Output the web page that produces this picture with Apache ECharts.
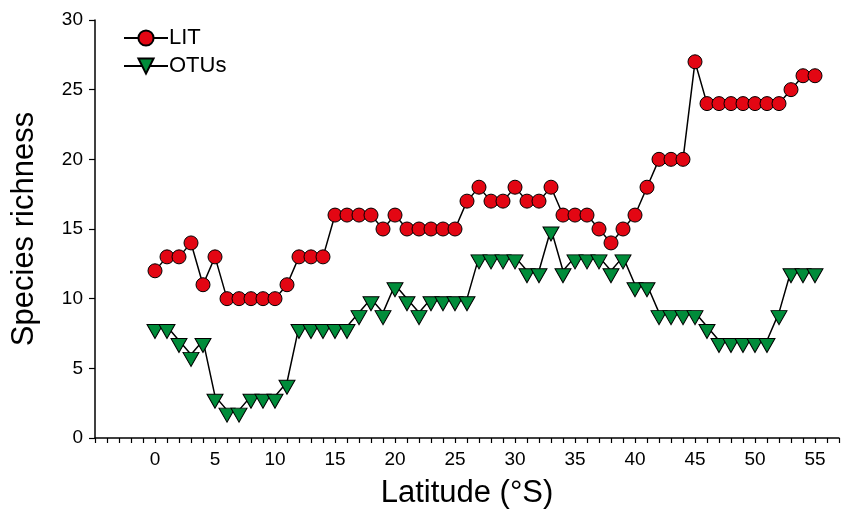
<!DOCTYPE html>
<html>
<head>
<meta charset="utf-8">
<script src="https://cdn.jsdelivr.net/npm/echarts@6/dist/echarts.min.js"></script>
<style>html,body{margin:0;padding:0;background:#fff;}#c{width:849px;height:514px;}</style>
</head>
<body>
<div id="c"></div>
<script>
var latitudes = [];
for (var i = 0; i <= 55; i++) latitudes.push(i);
var litValues = [12,13,13,14,11,13,10,10,10,10,10,11,13,13,13,16,16,16,16,15,16,15,15,15,15,15,17,18,17,17,18,17,17,18,16,16,16,15,14,15,16,18,20,20,20,27,24,24,24,24,24,24,24,25,26,26];
var otuValues = [8,8,7,6,7,3,2,2,3,3,3,4,8,8,8,8,8,9,10,9,11,10,9,10,10,10,10,13,13,13,13,12,12,15,12,13,13,13,12,13,11,11,9,9,9,9,8,7,7,7,7,7,9,12,12,12];
var yTicks = [0,5,10,15,20,25,30];

function pairs(vals){ return vals.map(function(v,i){ return [latitudes[i], v]; }); }

var chart = echarts.init(document.getElementById('c'));
var font = 'Liberation Sans, Arial, sans-serif';
chart.setOption({
  animation: false,
  grid: {left: 95, right: 10, top: 20, bottom: 76},
  legend: {
    left: 118, top: 22, orient: 'vertical', itemGap: 6,
    itemWidth: 44, itemHeight: 19,
    textStyle: {fontFamily: font, fontSize: 22, color: '#000', padding: [0,0,0,-4]},
    data: ['LIT', 'OTUs']
  },
  xAxis: {
    type: 'value', min: -5, max: 57, interval: 1,
    name: 'Latitude (°S)', nameLocation: 'middle', nameGap: 40,
    nameTextStyle: {fontFamily: font, fontSize: 31, color: '#000'},
    axisLine: {onZero: false, lineStyle: {color: '#000', width: 1.5}},
    axisTick: {show: true, length: 5, lineStyle: {color: '#000', width: 1.2}},
    axisLabel: {
      fontFamily: font, fontSize: 19, color: '#000', margin: 12,
      formatter: function(v){ return (v >= 0 && v <= 55 && v % 5 === 0) ? String(v) : ''; }
    },
    splitLine: {show: false}
  },
  yAxis: {
    type: 'value', min: 0, max: 30, interval: 5,
    name: 'Species richness', nameLocation: 'middle', nameGap: 55,
    nameTextStyle: {fontFamily: font, fontSize: 31, color: '#000'},
    axisLine: {show: true, onZero: false, lineStyle: {color: '#000', width: 1.5}},
    axisTick: {show: true, length: 6, lineStyle: {color: '#000', width: 1.2}},
    axisLabel: {fontFamily: font, fontSize: 19, color: '#000', margin: 12,
      formatter: function(v){ return yTicks.indexOf(v) >= 0 ? String(v) : ''; }},
    splitLine: {show: false}
  },
  series: [
    {
      name: 'LIT', type: 'line', data: pairs(litValues),
      symbol: 'circle', symbolSize: 14,
      lineStyle: {color: '#000', width: 1.5},
      itemStyle: {color: '#e30613', borderColor: '#000', borderWidth: 1},
      z: 3
    },
    {
      name: 'OTUs', type: 'line', data: pairs(otuValues),
      symbol: 'triangle', symbolRotate: 180, symbolSize: [16, 14], symbolOffset: [0, 5],
      lineStyle: {color: '#000', width: 1.5},
      itemStyle: {color: '#008c3a', borderColor: '#000', borderWidth: 1},
      z: 2
    }
  ]
});
</script>
</body>
</html>
